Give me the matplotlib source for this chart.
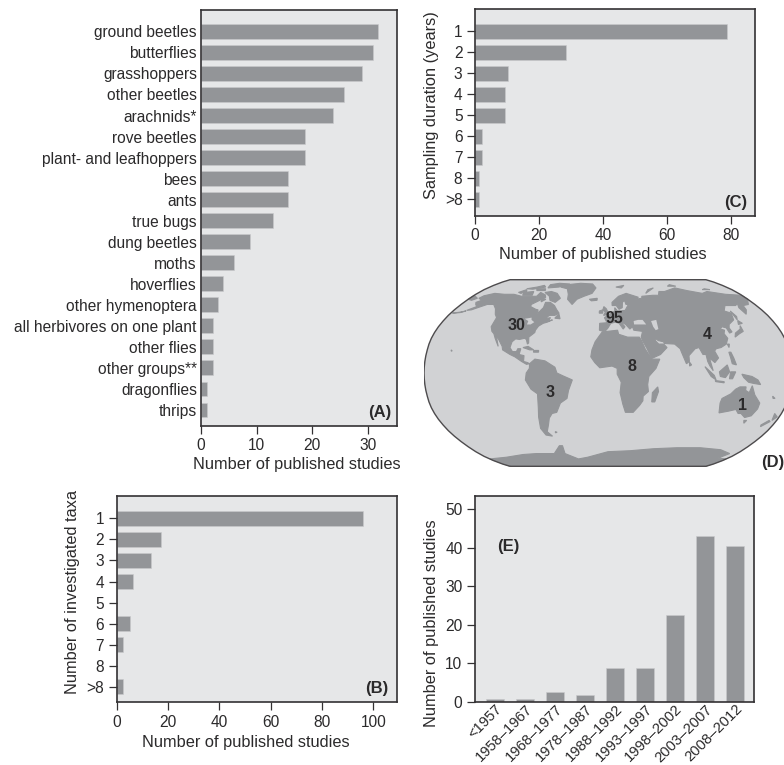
import matplotlib
matplotlib.use("Agg")
import matplotlib.pyplot as plt
from matplotlib.patches import Polygon
import numpy as np

W, H = 784, 765
BAR = "#939598"
PANEL = "#e6e7e8"
OCEAN = "#d1d2d4"
INK = "#2b2a2b"
FS = 11.2
LABEL_FS = 11.8

plt.rcParams["font.family"] = ["Liberation Sans", "DejaVu Sans"]
plt.rcParams["text.color"] = INK
plt.rcParams["axes.labelcolor"] = INK
plt.rcParams["xtick.labelcolor"] = INK
plt.rcParams["ytick.labelcolor"] = INK

# panel A
taxa = ["ground beetles", "butterflies", "grasshoppers", "other beetles", "arachnids*",
        "rove beetles", "plant- and leafhoppers", "bees", "ants", "true bugs", "dung beetles",
        "moths", "hoverflies", "other hymenoptera", "all herbivores on one plant",
        "other flies", "other groups**", "dragonflies", "thrips"]
taxa_studies = [31.9, 31, 28.9, 25.8, 23.7, 18.7, 18.7, 15.7, 15.7, 12.9, 8.9, 6, 3.9, 3.1, 2.1, 2.1, 2.1, 1.1, 1.1]

# panel B
n_taxa = ["1", "2", "3", "4", "5", "6", "7", "8", ">8"]
n_taxa_studies = [96, 17.3, 13.2, 6.2, 0, 5.3, 2.4, 0, 2.4]

# panel C
duration = ["1", "2", "3", "4", "5", "6", "7", "8", ">8"]
duration_studies = [78.9, 28.3, 10.4, 9.3, 9.3, 2.2, 2.2, 1.4, 1.4]

# panel E
periods = ["<1957", "1958–1967", "1968–1977", "1978–1987", "1988–1992", "1993–1997",
           "1998–2002", "2003–2007", "2008–2012"]
period_studies = [0.9, 0.9, 2.6, 1.9, 8.9, 8.9, 22.5, 43, 40.6]

# panel D, counts per region (lon, lat)
region_counts = ["30", "95", "4", "8", "3", "1"]
region_lon = [-98, 7, 102, 23, -57, 137]
region_lat = [41, 47, 33, 6, -17, -28.5]

# rough coastlines (lon, lat)
land = [
    # north america
    [(-168,66),(-166,68.5),(-156,71),(-141,70),(-128,70),(-115,68),(-108,68),(-95,68),(-94,72),(-85,69.5),
     (-82,67),(-87,64),(-94,60),(-93,58),(-85,55.5),(-82,55),(-80,51.5),(-79,54),(-77,57),(-78,62),(-72,62),
     (-65,59),(-60,55),(-56,52),(-60,50),(-66,50),(-70,47),(-64,48),(-65,45),(-61,46),(-66,44),(-70,43),
     (-74,40.5),(-76,37),(-76,35),(-81,31),(-80,26),(-81,25),(-83,29),(-85,30),(-90,29),(-94,29.5),(-97,27),
     (-98,22),(-95,18.5),(-91,18.5),(-90,21),(-87,21),(-88,16),(-83,15),(-83,10),(-79,9),(-77,8),(-80,7.5),
     (-85,10),(-92,14),(-97,16),(-105,20),(-106,23),(-112,30),(-114,31),(-110,23),(-115,30),(-118,34),
     (-121,36),(-124,40),(-124,48),(-128,51),(-133,56),(-140,60),(-148,60),(-153,58),(-160,55),(-165,54.5),
     (-158,58),(-162,60),(-165,62),(-161,64)],
    [(-180,69),(-170,66),(-174,64),(-180,65)],
    [(-178,52),(-170,53),(-165,54),(-170,52.5)],
    # greenland
    [(-44,60),(-52,65),(-54,70),(-60,76),(-72,78),(-65,81),(-45,83),(-25,82),(-18,77),(-22,71),(-32,68),(-40,65)],
    # arctic canada
    [(-80,73),(-70,71),(-62,66),(-66,62),(-74,64),(-78,68),(-88,72)],
    [(-90,77),(-75,78),(-62,82),(-80,83),(-92,81)],
    [(-117,72),(-105,73),(-102,69),(-115,69)],
    [(-125,72),(-118,75),(-115,73),(-120,71)],
    [(-105,76),(-92,76),(-90,74),(-102,74)],
    [(-120,76),(-108,78),(-100,80),(-95,78),(-110,75.5)],
    [(-86,66),(-80,65),(-84,62.5)],
    [(-59,47.5),(-53,47),(-56,51.5)],
    # caribbean and pacific specks
    [(-85,22),(-80,23),(-74,20),(-78,20)],
    [(-74,19.5),(-69,19.5),(-69,18),(-74,18)],
    [(-156,20),(-155,19),(-156,19)],
    [(-60,-51),(-58,-51.5),(-60,-52)],
    [(164,-20),(167,-22),(165,-22)],
    # south america
    [(-77,8),(-72,12),(-62,10.5),(-52,5),(-50,0),(-44,-2.5),(-35,-6),(-39,-15),(-41,-22),(-48,-26),(-53,-34),
     (-58,-35),(-62,-39),(-65,-45),(-69,-51),(-65,-55),(-72,-54),(-75,-48),(-73,-38),(-71,-30),(-70,-18),
     (-76,-14),(-81,-6),(-80,0),(-77,4)],
    # africa
    [(-6,35.5),(10,37),(11,33.5),(20,31),(32,31),(34,28),(37,21),(43,12),(51,12),(47,4),(40,-3),(39,-10),
     (40,-16),(35,-20),(35,-24),(32,-28),(26,-34),(18,-34),(15,-27),(12,-17),(13,-8),(9,-1),(9,4),(4,6),
     (-4,5),(-8,4.5),(-13,9),(-17,14),(-16,20),(-13,27),(-9,32)],
    # eurasia
    [(-9,37),(-9,43),(-1,43.5),(-4,48),(2,51),(8,54),(8,57),(11,54),(20,54.5),(24,59),(30,60),(22,60),(21,64),
     (24,66),(18,62),(17,57),(13,55.5),(10,59),(5,59),(5,62),(14,68),(25,71),(40,67),(35,65),(44,66),(45,68),
     (60,69),(68,69),(72,73),(80,73),(100,77),(113,74),(130,71),(140,73),(160,70),(180,69),(180,65),(178,64),
     (172,60),(164,59),(162,55),(157,51),(156,57),(160,61),(155,59),(142,59),(135,54),(141,52),(138,46),
     (130,42),(128,39),(129,35.5),(126,34.5),(125,39),(121,40),(118,38),(122,37),(120,34),(122,30),(119,25),
     (113,22),(108,21),(106,19),(109,13),(105,9),(100,13),(103,2),(100,6),(98,10),(97,16),(94,16),(91,22),
     (87,21),(80,15),(80,10),(77,8),(73,18),(72,21),(67,25),(57,25.5),(56,27),(51,28),(48,30),(48,28),(51,25),
     (56,25),(59,22),(52,16),(43,12.5),(39,21),(35,28),(34,31),(36,36),(27,37),(26,40),(23,38),(19,42),(13,45),
     (18,40),(16,38),(12,43),(8,44),(3,43),(0,39),(-2,37),(-5,36)],
    # europe and arctic islands
    [(-5,50),(1,51),(-2,56),(-5,58),(-6,55),(-3,53)],
    [(-10,52),(-6,52),(-6,55),(-10,54)],
    [(-24,65),(-14,66),(-14,64),(-21,63.5)],
    [(12,78),(25,80),(20,77)],
    [(52,71),(68,77),(58,75)],
    [(92,79),(105,79),(98,81)],
    [(137,75),(148,75),(142,76)],
    # east asia and indonesia
    [(130,31),(136,34),(141,36),(141,41),(139,38),(132,34.5)],
    [(140,42),(145,43),(142,45.5)],
    [(142,46),(144,49),(142,54)],
    [(120,25),(122,25),(121,22)],
    [(120,18),(122,18),(124,13),(126,7),(122,8),(121,13)],
    [(109,1),(117,7),(119,1),(115,-4),(110,-3)],
    [(95,5.5),(104,-2),(106,-6),(101,-3)],
    [(105,-6.5),(114,-7.5),(114,-8.5),(106,-7.5)],
    [(120,1),(125,1),(122,-5),(119,-5)],
    [(131,-1),(141,-3),(147,-6),(150,-10),(143,-9),(138,-8),(133,-4)],
    [(80,9.5),(82,7),(80,6)],
    # oceania
    [(114,-22),(122,-18),(126,-14),(130,-12),(136,-12),(136,-15),(140,-17),(142,-11),(146,-19),(153,-26),
     (153,-31),(150,-37),(144,-38.5),(138,-35),(135,-35),(131,-31.5),(124,-33),(115,-34.5),(113,-26)],
    [(145,-41),(148,-41),(147,-43.5)],
    [(173,-35),(178,-38),(175,-41)],
    [(172,-41),(174,-42),(168,-46.5),(167,-45)],
    # madagascar
    [(49,-12),(50,-16),(47,-25),(44,-25),(44,-17)],
    # antarctica
    [(-180,-78),(-150,-76),(-120,-73),(-100,-72),(-75,-72),(-62,-64),(-58,-64),(-60,-72),(-45,-78),(-30,-76),
     (0,-70),(30,-69),(60,-67),(90,-66),(120,-66),(150,-68),(170,-72),(165,-77),(180,-78),(180,-90),(-180,-90)],
]

water = [
    [(28,42),(28,45),(33,46),(38,46),(41,42),(35,42)],
    [(47,45),(53,46),(53,38),(50,37),(48,40)],
    [(-92,47),(-85,48),(-84,46),(-80,44),(-83,42),(-87,42),(-87,45)],
]

# robinson projection table, every 5 degrees of latitude
ROB_LAT = np.arange(0, 95, 5)
ROB_X = [1, .9986, .9954, .99, .9822, .973, .96, .9427, .9216, .8962, .8679, .835, .7986, .7597,
         .7186, .6732, .6213, .5722, .5322]
ROB_Y = [0, .062, .124, .186, .248, .31, .372, .434, .4958, .5571, .6176, .6769, .7346, .7903,
         .8435, .8936, .9394, .9761, 1]


def robinson(lon, lat):
    lon = np.asarray(lon, dtype=float)
    lat = np.asarray(lat, dtype=float)
    x = np.interp(np.abs(lat), ROB_LAT, ROB_X) * lon / 180
    y = np.sign(lat) * np.interp(np.abs(lat), ROB_LAT, ROB_Y)
    return x, y


def box(left, top, right, bottom):
    return [left / W, 1 - bottom / H, (right - left) / W, (bottom - top) / H]


def style(ax):
    ax.set_facecolor(PANEL)
    for s in ax.spines.values():
        s.set_linewidth(1.2)
        s.set_color("#333133")
    ax.tick_params(labelsize=FS, width=0.9, length=6, color="#333133", pad=3)


def hbars(ax, labels, values, xmax, ylim, xticks):
    y = np.arange(len(labels))
    ax.barh(y, values, height=0.71, color=BAR, edgecolor="#c9cacc", linewidth=0.4)
    ax.set_yticks(y)
    ax.set_yticklabels(labels)
    ax.set_ylim(*ylim)
    ax.set_xlim(0, xmax)
    ax.set_xticks(xticks)
    style(ax)


def put(x, y, s, **kw):
    kw.setdefault("fontsize", LABEL_FS)
    kw.setdefault("ha", "center")
    kw.setdefault("va", "center")
    fig.text(x / W, 1 - y / H, s, **kw)


fig = plt.figure(figsize=(W / 100, H / 100), dpi=100)

ax_a = fig.add_axes(box(201, 9.5, 396.5, 426))
hbars(ax_a, taxa, taxa_studies, 35.2, (18.76, -1.04), [0, 10, 20, 30])
ax_a.tick_params(axis="y", length=0, pad=3)
put(297, 465, "Number of published studies")

ax_b = fig.add_axes(box(116.7, 495.7, 396.7, 702.3))
hbars(ax_b, n_taxa, n_taxa_studies, 109.1, (8.74, -1.08), [0, 20, 40, 60, 80, 100])
put(245.5, 742, "Number of published studies")
put(73, 592, "Number of investigated taxa", rotation=90)

ax_c = fig.add_axes(box(475, 9.3, 754.7, 216))
hbars(ax_c, duration, duration_studies, 87.4, (8.8, -1.05), [0, 20, 40, 60, 80])
put(603, 255, "Number of published studies")
put(432, 105, "Sampling duration (years)", rotation=90)

ax_e = fig.add_axes(box(475, 496, 754, 702))
ax_e.bar(np.arange(len(periods)), period_studies, width=0.6, color=BAR, edgecolor="#c9cacc", linewidth=0.4)
ax_e.set_xlim(-0.667, 8.63)
ax_e.set_ylim(0, 53.5)
ax_e.set_yticks([0, 10, 20, 30, 40, 50])
ax_e.set_xticks(np.arange(len(periods)))
ax_e.set_xticklabels(periods, rotation=45, ha="right", rotation_mode="anchor")
style(ax_e)
ax_e.tick_params(axis="x", length=0, pad=0, labelsize=10.6)
put(432, 623, "Number of published studies", rotation=90)

# map, one x unit is 184 px and one y unit 93.3 px around (608, 373)
ax_d = fig.add_axes(box(424, 276, 784, 470))
ax_d.set_xlim(-1, (784 - 608) / 184)
ax_d.set_ylim((373 - 470) / 93.3, (373 - 276) / 93.3)
ax_d.axis("off")
edge_lat = np.arange(-90, 91, 5)
left_x, left_y = robinson(np.full(edge_lat.size, -180), edge_lat)
right_x, right_y = robinson(np.full(edge_lat.size, 180), edge_lat)
globe = np.vstack([np.column_stack([left_x, left_y]), np.column_stack([right_x[::-1], right_y[::-1]])])
ax_d.add_patch(Polygon(globe, closed=True, facecolor=OCEAN, edgecolor="none", zorder=1))
for part in land:
    lons, lats = zip(*part)
    ax_d.add_patch(Polygon(np.column_stack(robinson(lons, lats)), closed=True, facecolor=BAR,
                           edgecolor=BAR, linewidth=0.8, zorder=2))
for part in water:
    lons, lats = zip(*part)
    ax_d.add_patch(Polygon(np.column_stack(robinson(lons, lats)), closed=True, facecolor=OCEAN,
                           edgecolor="none", zorder=3))
ax_d.add_patch(Polygon(globe, closed=True, facecolor="none", edgecolor="#4d4b4d", linewidth=1.0, zorder=4))
xs, ys = robinson(region_lon, region_lat)
for s, x, y in zip(region_counts, xs, ys):
    ax_d.text(x, y, s, fontsize=11.5, fontweight="bold", ha="center", va="center", zorder=5)

put(380, 413, "(A)", fontweight="bold", fontsize=12)
put(377, 689, "(B)", fontweight="bold", fontsize=12)
put(736, 203, "(C)", fontweight="bold", fontsize=12)
put(761, 462, "(D)", fontweight="bold", fontsize=12, ha="left")
put(508, 546, "(E)", fontweight="bold", fontsize=12)

fig.savefig("out.png", dpi=100)
